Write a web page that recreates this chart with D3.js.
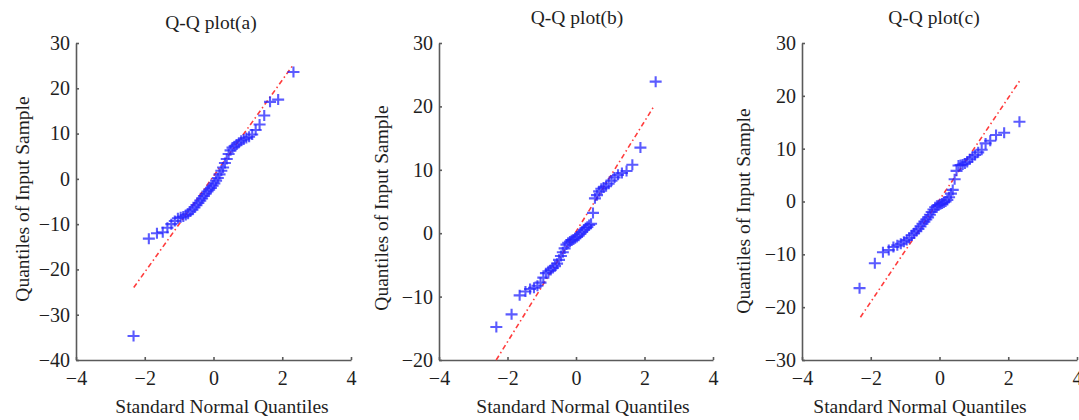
<!doctype html>
<html>
<head>
  <meta charset="utf-8">
  <title>Q-Q plots</title>
  <script src="https://d3js.org/d3.v7.min.js"></script>
  <style>
    body { margin: 0; background: #fff; }
    text { font-family: 'Liberation Serif', 'Times New Roman', serif; fill: #1e1e1e; }
    .axis path, .axis line { stroke: #5a5a5a; stroke-width: 1.6; }
    .axis text { font-size: 20px; }
    .title, .xlabel, .ylabel { font-size: 19.5px; text-anchor: middle; }
  </style>
</head>
<body>
<svg id="chart" width="1079" height="420"></svg>
<script>
// standard normal quantiles of the 50 ordered samples (x positions)
var normalQuantiles = [-2.326, -1.881, -1.645, -1.476, -1.341, -1.227, -1.126, -1.036, -0.954, -0.878,
  -0.806, -0.739, -0.675, -0.613, -0.553, -0.496, -0.440, -0.385, -0.332, -0.279,
  -0.228, -0.176, -0.126, -0.075, -0.025, 0.025, 0.075, 0.126, 0.176, 0.228,
  0.279, 0.332, 0.385, 0.440, 0.496, 0.553, 0.613, 0.675, 0.739, 0.806,
  0.878, 0.954, 1.036, 1.126, 1.227, 1.341, 1.476, 1.645, 1.881, 2.326];

// sorted sample quantiles
var sampleA = [-34.7, -13.2, -12.0, -11.8, -10.8, -10.0, -9.3, -8.7, -8.5, -8.3,
  -8.0, -7.7, -7.2, -6.8, -6.3, -5.8, -5.3, -4.8, -4.3, -3.8,
  -3.3, -2.8, -2.4, -2.0, -1.5, -1.0, -0.4, 0.2, 1.0, 1.8,
  2.5, 3.5, 4.4, 5.5, 6.3, 6.9, 7.2, 7.6, 8.0, 8.4,
  8.7, 9.0, 9.3, 9.8, 10.8, 12.0, 14.0, 17.0, 17.5, 23.6];
var sampleB = [-14.8, -12.8, -9.8, -9.2, -8.8, -8.6, -8.3, -7.8, -7.0, -6.3,
  -6.0, -5.8, -5.5, -5.2, -4.8, -4.2, -3.6, -3.0, -2.4, -1.8,
  -1.5, -1.3, -1.1, -1.0, -0.8, -0.6, -0.4, -0.1, 0.2, 0.5,
  0.8, 1.0, 1.3, 1.5, 3.2, 5.5, 6.0, 6.6, 7.0, 7.2,
  7.4, 7.8, 8.3, 8.8, 9.2, 9.5, 9.8, 10.8, 13.5, 23.9];
var sampleC = [-16.4, -11.7, -9.6, -9.2, -8.6, -8.3, -8.0, -7.6, -7.3, -6.9,
  -6.4, -6.0, -5.6, -5.2, -4.7, -4.2, -3.8, -3.4, -3.0, -2.5,
  -2.0, -1.5, -1.1, -0.8, -0.7, -0.5, -0.4, -0.2, 0.0, 0.3,
  0.8, 1.5, 2.2, 4.2, 5.8, 6.8, 6.9, 7.0, 7.2, 7.5,
  8.0, 8.4, 8.8, 9.3, 9.8, 11.0, 11.5, 12.6, 13.0, 15.1];

// reference line end points (x, y)
var refLineA = [[-2.32, -24.0], [2.32, 25.2]];
var refLineB = [[-2.33, -20.0], [2.25, 19.8]];
var refLineC = [[-2.30, -21.9], [2.35, 23.0]];

var titles = ["Q-Q plot(a)", "Q-Q plot(b)", "Q-Q plot(c)"];
var xLabel = "Standard Normal Quantiles";
var yLabel = "Quantiles of Input Sample";
var xTicks = [-4, -2, 0, 2, 4];
var yTicksA = [-40, -30, -20, -10, 0, 10, 20, 30];
var yTicksB = [-20, -10, 0, 10, 20, 30];
var yTicksC = [-30, -20, -10, 0, 10, 20, 30];

var panels = [
  {sample: sampleA, line: refLineA, yTicks: yTicksA, title: titles[0],
   left: 76, right: 351, titleX: 211, titleY: 29, xlabX: 222, ylabX: 29, ylabY: 199},
  {sample: sampleB, line: refLineB, yTicks: yTicksB, title: titles[1],
   left: 439, right: 713, titleX: 577, titleY: 24, xlabX: 583, ylabX: 388, ylabY: 208},
  {sample: sampleC, line: refLineC, yTicks: yTicksC, title: titles[2],
   left: 802, right: 1077, titleX: 934, titleY: 24, xlabX: 920, ylabX: 750, ylabY: 211}
];
var plotTop = 43, plotBottom = 360;

var svg = d3.select("#chart");

panels.forEach(function(p) {
  var x = d3.scaleLinear().domain([-4, 4]).range([p.left, p.right]);
  var y = d3.scaleLinear().domain(d3.extent(p.yTicks)).range([plotBottom, plotTop]);
  var g = svg.append("g");

  g.append("g")
    .attr("class", "axis")
    .attr("transform", "translate(0," + plotBottom + ")")
    .call(d3.axisBottom(x).tickValues(xTicks).tickSizeInner(-3).tickSizeOuter(0).tickPadding(11));

  g.append("g")
    .attr("class", "axis")
    .attr("transform", "translate(" + p.left + ",0)")
    .call(d3.axisLeft(y).tickValues(p.yTicks).tickSizeInner(-3).tickSizeOuter(0).tickPadding(6));

  // reference line, dash-dot
  g.append("path")
    .datum(p.line)
    .attr("d", d3.line().x(d => x(d[0])).y(d => y(d[1])))
    .attr("fill", "none")
    .attr("stroke", "#ff3c3c")
    .attr("stroke-width", 1.6)
    .attr("stroke-dasharray", "5,3,1.5,3");

  // sample points as + markers
  g.selectAll("path.pt")
    .data(p.sample)
    .enter()
    .append("path")
    .attr("class", "pt")
    .attr("transform", (d, i) => "translate(" + x(normalQuantiles[i]) + "," + y(d) + ")")
    .attr("d", "M-6,0H6M0,-5.5V5.5")
    .attr("stroke", "#2424ff")
    .attr("stroke-width", 2.1)
    .attr("stroke-opacity", 0.75)
    .attr("fill", "none");

  g.append("text").attr("class", "title")
    .attr("x", p.titleX).attr("y", p.titleY).text(p.title);
  g.append("text").attr("class", "xlabel")
    .attr("x", p.xlabX).attr("y", 413).text(xLabel);
  g.append("text").attr("class", "ylabel")
    .attr("transform", "translate(" + p.ylabX + "," + p.ylabY + ") rotate(-90)")
    .text(yLabel);
});
</script>
</body>
</html>
